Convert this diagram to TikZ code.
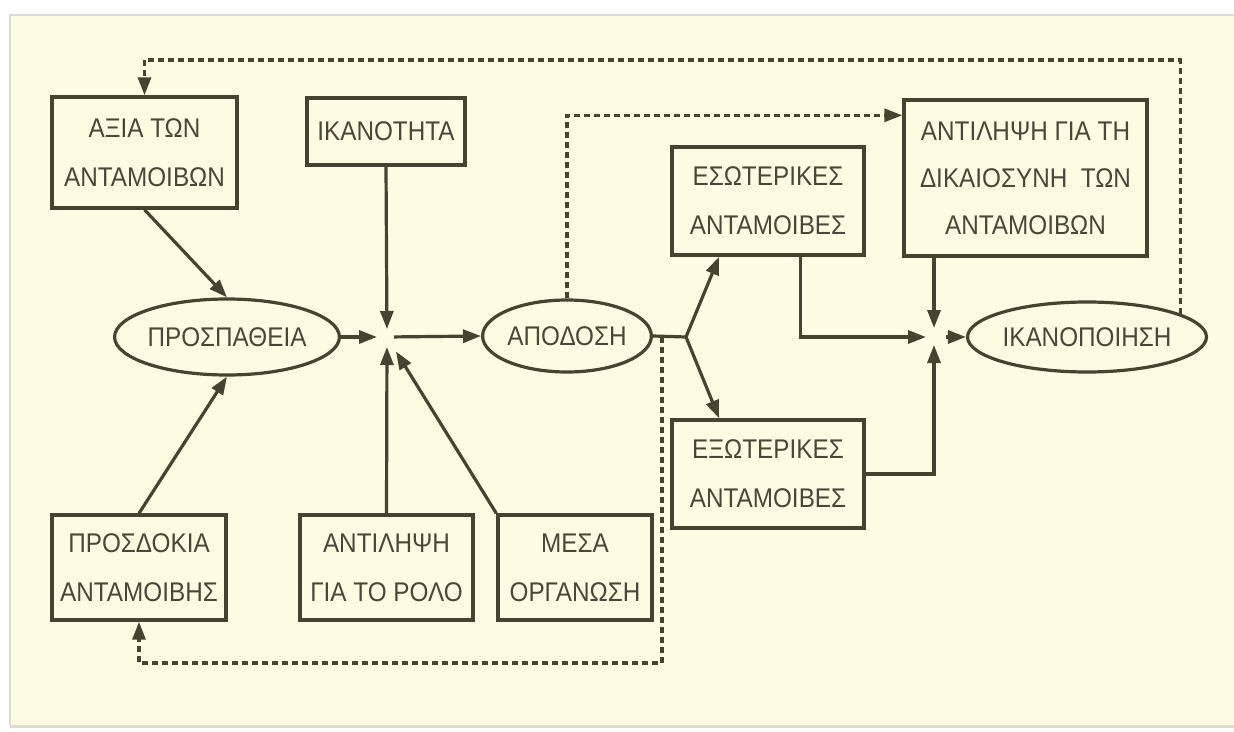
\documentclass[tikz,border=0pt]{standalone}
\usepackage{fontspec}
\setmainfont[FakeStretch=0.9]{Liberation Sans}
\usetikzlibrary{arrows.meta,shapes.geometric,calc}
\definecolor{bgyel}{RGB}{253,251,226}
\definecolor{ink}{RGB}{68,68,48}
\definecolor{txt}{RGB}{72,72,56}
\definecolor{edge}{RGB}{220,220,212}
\tikzset{
  box/.style={draw=ink,line width=3.4pt,rectangle,inner sep=0pt,align=center,text=txt,
    font=\fontsize{27}{49}\selectfont},
  oval/.style={draw=ink,line width=3.2pt,ellipse,inner sep=0pt,align=center,text=txt,
    font=\fontsize{27}{49}\selectfont},
  conn/.style={draw=ink,line width=3.2pt,-{Triangle[length=18pt,width=13pt]}},
  plain/.style={draw=ink,line width=3.2pt},
  dsh/.style={draw=ink,line width=3.2pt,dash pattern=on 6pt off 4pt,-{Triangle[length=18pt,width=13pt]}}
}
\begin{document}
\begin{tikzpicture}[x=1pt,y=-1pt]
\useasboundingbox (0,0) rectangle (1234,731);
\fill[white] (0,0) rectangle (1234,731);
\fill[bgyel] (10,15) rectangle (1234,725);
\draw[edge,line width=2pt] (10,725) -- (10,15) -- (1234,15);
\draw[edge,line width=3pt] (10,726) -- (1234,726);

% boxes
\node[box,minimum width=185pt,minimum height=111pt] (axia) at (144.5,152.5) {ΑΞΙΑ ΤΩΝ\\ΑΝΤΑΜΟΙΒΩΝ};
\node[box,minimum width=158pt,minimum height=67pt] (ikan) at (386,131.5) {ΙΚΑΝΟΤΗΤΑ};
\node[box,minimum width=174pt,minimum height=105pt] (prosd) at (139,567.5) {ΠΡΟΣΔΟΚΙΑ\\ΑΝΤΑΜΟΙΒΗΣ};
\node[box,minimum width=173pt,minimum height=105pt] (rolos) at (386.5,567.5) {ΑΝΤΙΛΗΨΗ\\ΓΙΑ ΤΟ ΡΟΛΟ};
\node[box,minimum width=154pt,minimum height=105pt] (mesa) at (575,567.5) {ΜΕΣΑ\\ΟΡΓΑΝΩΣΗ};
\node[box,minimum width=192pt,minimum height=108pt] (esot) at (768,201) {ΕΣΩΤΕΡΙΚΕΣ\\ΑΝΤΑΜΟΙΒΕΣ};
\node[box,minimum width=192pt,minimum height=108pt] (exot) at (768,474) {ΕΞΩΤΕΡΙΚΕΣ\\ΑΝΤΑΜΟΙΒΕΣ};
\node[box,minimum width=243pt,minimum height=156pt,font=\fontsize{27}{47}\selectfont] (dik) at (1025.5,178) {ΑΝΤΙΛΗΨΗ ΓΙΑ ΤΗ\\ΔΙΚΑΙΟΣΥΝΗ\ \ ΤΩΝ\\ΑΝΤΑΜΟΙΒΩΝ};

% ellipses
\node[oval,minimum width=190pt,minimum height=76pt] (prosp) at (227,337) {ΠΡΟΣΠΑΘΕΙΑ};
\node[oval,minimum width=165pt,minimum height=72pt] (apod) at (567,336) {ΑΠΟΔΟΣΗ};
\node[oval,minimum width=210pt,minimum height=70pt] (ikanop) at (1087,337) {ΙΚΑΝΟΠΟΙΗΣΗ};

% junctions
\coordinate (j1) at (387,337);
\coordinate (j2) at (934,337);
\coordinate (br) at (686,337);
\coordinate (dd) at (662,337);
\coordinate (topy) at (0,60);
\coordinate (boty) at (0,663);

% left side
\draw[conn] (axia.south) -- (prosp.north);
\draw[conn] (prosd.north) -- (prosp.south);
\draw[conn,shorten >=10pt] (prosp.east) -- (j1);
\draw[conn,shorten >=8pt] (ikan.south) -- (j1);
\draw[conn,shorten >=10pt] (rolos.north) -- (j1);
\draw[conn,shorten >=17pt] (mesa.north west) -- (j1);
\draw[conn,shorten <=7pt] (j1) -- (apod.west);

% branch to rewards
\draw[plain] (apod.east) -- (br);
\draw[conn] (br) -- ($(esot.south west)!0.25!(esot.south east)$);
\draw[conn] (br) -- ($(exot.north west)!0.25!(exot.north east)$);

% into satisfaction junction
\draw[conn,shorten >=8pt] ($(esot.south west)+(130,0)$) |- (j2);
\draw[conn,shorten >=9pt] (j2 |- dik.south) -- (j2);
\draw[conn,shorten >=8pt] (exot.east) -| (j2);
\draw[conn,shorten <=12pt] (j2) -- (ikanop.west);

% dashed feedback loops
\draw[dsh] (apod.north) |- ($(dik.north west)+(0,17)$);
\draw[dsh] (dd) -- (dd |- boty) -| (prosd.south);
\draw[dsh] (ikanop.14) -- (ikanop.14 |- topy) -| (axia.north);
\end{tikzpicture}
\end{document}
